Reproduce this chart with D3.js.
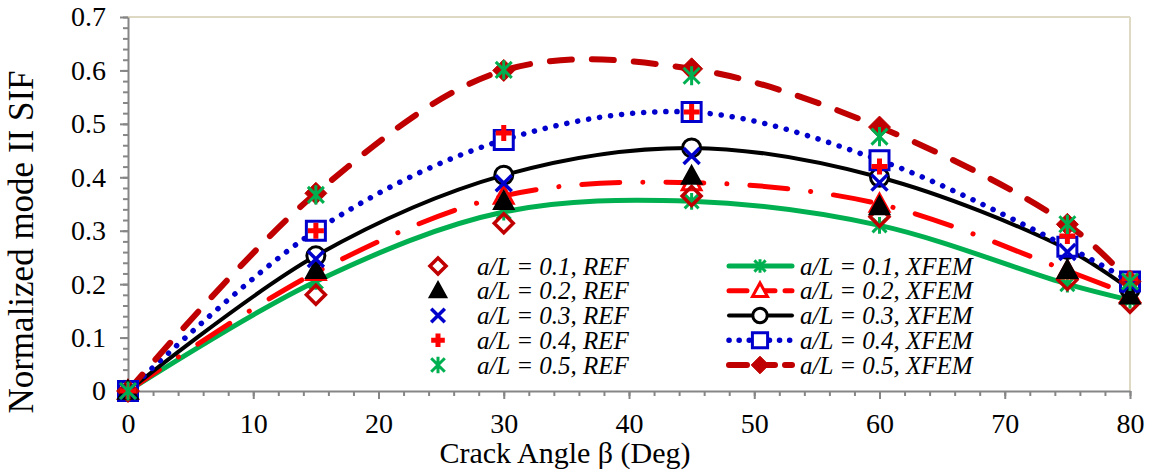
<!DOCTYPE html>
<html>
<head>
<meta charset="utf-8">
<script src="https://cdn.jsdelivr.net/npm/d3@7"></script>
<style>
  body { margin: 0; background: #fff; }
  text { font-family: "Liberation Serif", "Times New Roman", serif; fill: #000; }
</style>
</head>
<body>
<div id="chart"></div>
<script>
// crack angle (deg)
const angles = [0, 15, 30, 45, 60, 75, 80];

// reference results (markers only)
const ref01 = [0, 0.180, 0.314, 0.365, 0.326, 0.208, 0.165];
const ref02 = [0, 0.226, 0.355, 0.402, 0.345, 0.226, 0.178];
const ref03 = [0, 0.247, 0.389, 0.440, 0.390, 0.260, 0.200];
const ref04 = [0, 0.300, 0.483, 0.522, 0.420, 0.290, 0.210];
const ref05 = [0, 0.367, 0.601, 0.590, 0.476, 0.312, 0.205];

// XFEM results (smoothed lines + markers)
const xfem01 = [0, 0.205, 0.335, 0.355, 0.310, 0.200, 0.170];
const xfem02 = [0, 0.222, 0.365, 0.390, 0.350, 0.225, 0.180];
const xfem03 = [0, 0.253, 0.404, 0.455, 0.400, 0.265, 0.190];
const xfem04 = [0, 0.300, 0.470, 0.522, 0.432, 0.270, 0.205];
const xfem05 = [0, 0.370, 0.600, 0.603, 0.494, 0.312, 0.205];

const xTicks = [0, 10, 20, 30, 40, 50, 60, 70, 80];
const yTicks = [0, 0.1, 0.2, 0.3, 0.4, 0.5, 0.6, 0.7];

const refLabels = ["a/L = 0.1, REF", "a/L = 0.2, REF", "a/L = 0.3, REF", "a/L = 0.4, REF", "a/L = 0.5, REF"];
const xfemLabels = ["a/L = 0.1, XFEM", "a/L = 0.2, XFEM", "a/L = 0.3, XFEM", "a/L = 0.4, XFEM", "a/L = 0.5, XFEM"];

const W = 1151, H = 474;
const margin = { top: 17, right: 21, bottom: 83, left: 128 },
    width = W - margin.left - margin.right,
    height = H - margin.top - margin.bottom;

const svg = d3.select("#chart").append("svg")
    .attr("width", W).attr("height", H);
const g = svg.append("g").attr("transform", `translate(${margin.left},${margin.top})`);

const x = d3.scaleLinear().domain([0, 80]).range([0, width]);
const y = d3.scaleLinear().domain([0, 0.7]).range([height, 0]);

// marker shapes
function markerPath(type, r) {
  switch (type) {
    case "diamond": return `M0,${-r}L${r},0L0,${r}L${-r},0Z`;
    case "triangle": return `M0,${-r * 1.15}L${r * 1.1},${r * 0.85}L${-r * 1.1},${r * 0.85}Z`;
    case "x": return `M${-r},${-r}L${r},${r}M${-r},${r}L${r},${-r}`;
    case "plus": return `M${-r},0L${r},0M0,${-r}L0,${r}`;
    case "star": return `M${-r},${-r}L${r},${r}M${-r},${r}L${r},${-r}M0,${-r * 1.2}L0,${r * 1.2}`;
    case "square": return `M${-r},${-r}H${r}V${r}H${-r}Z`;
    case "circle": return d3.arc()({ innerRadius: 0, outerRadius: r, startAngle: 0, endAngle: 2 * Math.PI });
  }
}

const refSeries = [
  { label: refLabels[0], values: ref01, shape: "diamond", r: 9.5, stroke: "#C00000", fill: "none", sw: 3.5 },
  { label: refLabels[1], values: ref02, shape: "triangle", r: 9, stroke: "#000", fill: "#000", sw: 2 },
  { label: refLabels[2], values: ref03, shape: "x", r: 8, stroke: "#0000CC", fill: "none", sw: 3.5 },
  { label: refLabels[3], values: ref04, shape: "plus", r: 8, stroke: "#FF0000", fill: "none", sw: 5 },
  { label: refLabels[4], values: ref05, shape: "star", r: 8, stroke: "#00B050", fill: "none", sw: 3 }
];

const xfemSeries = [
  { label: xfemLabels[0], values: xfem01, color: "#00B050", lw: 5, dash: null, cap: "round",
    shape: "star", r: 7, stroke: "#00B050", fill: "none", sw: 3 },
  { label: xfemLabels[1], values: xfem02, color: "#FF0000", lw: 5, dash: "38 23 0.1 23", cap: "round",
    shape: "triangle", r: 8.5, stroke: "#FF0000", fill: "#fff", sw: 3 },
  { label: xfemLabels[2], values: xfem03, color: "#000", lw: 4, dash: null, cap: "round",
    shape: "circle", r: 9, stroke: "#000", fill: "#fff", sw: 3 },
  { label: xfemLabels[3], values: xfem04, color: "#0000CC", lw: 5.5, dash: "0.1 11", cap: "round",
    shape: "square", r: 9.5, stroke: "#0000CC", fill: "#fff", sw: 3 },
  { label: xfemLabels[4], values: xfem05, color: "#C00000", lw: 6, dash: "22 20", cap: "round",
    shape: "diamond", r: 11, stroke: "#C00000", fill: "#C00000", sw: 1 }
];

// frame: top / right lines in tan
g.append("line").attr("x1", 0).attr("x2", width).attr("y1", 0).attr("y2", 0)
  .attr("stroke", "#DDD9C3").attr("stroke-width", 2);
g.append("line").attr("x1", width).attr("x2", width).attr("y1", 0).attr("y2", height)
  .attr("stroke", "#DDD9C3").attr("stroke-width", 2);

// minor ticks
const minorX = d3.range(0, 80.001, 2);
const minorY = d3.range(0, 0.7001, 0.02);
g.append("g").attr("transform", `translate(0,${height})`)
  .call(d3.axisBottom(x).tickValues(minorX).tickSize(5).tickFormat(""))
  .call(a => a.select(".domain").remove())
  .selectAll("line").attr("stroke", "#868686").attr("stroke-width", 2);
g.append("g")
  .call(d3.axisLeft(y).tickValues(minorY).tickSize(5).tickFormat(""))
  .call(a => a.select(".domain").remove())
  .selectAll("line").attr("stroke", "#868686").attr("stroke-width", 2);

// major axes
const xAxis = g.append("g").attr("transform", `translate(0,${height})`)
  .call(d3.axisBottom(x).tickValues(xTicks).tickSize(8).tickPadding(14).tickSizeOuter(0).tickFormat(d3.format("d")));
const yAxis = g.append("g")
  .call(d3.axisLeft(y).tickValues(yTicks).tickSize(8).tickPadding(14).tickSizeOuter(0).tickFormat(d => d === 0 ? "0" : d3.format(".1f")(d)));
[xAxis, yAxis].forEach(a => {
  a.select(".domain").attr("stroke", "#868686").attr("stroke-width", 2);
  a.selectAll(".tick line").attr("stroke", "#868686").attr("stroke-width", 2);
  a.selectAll("text").style("font-size", "28px").style("font-family", "Liberation Serif");
});

// axis titles
svg.append("text").attr("x", 565).attr("y", 463).attr("text-anchor", "middle")
  .style("font-size", "30px").text("Crack Angle β (Deg)");
svg.append("text").attr("transform", "translate(33,242) rotate(-90)").attr("text-anchor", "middle")
  .style("font-size", "35px").text("Normalized mode II SIF");

// XFEM smooth lines
const line = d3.line().x((d, i) => x(angles[i])).y(d => y(d)).curve(d3.curveCatmullRom.alpha(0.5));
xfemSeries.forEach(s => {
  g.append("path").datum(s.values)
    .attr("d", line)
    .attr("fill", "none")
    .attr("stroke", s.color)
    .attr("stroke-width", s.lw)
    .attr("stroke-linecap", s.cap)
    .attr("stroke-dasharray", s.dash);
});

function drawMarkers(s) {
  g.append("g").selectAll("path")
    .data(s.values)
    .join("path")
    .attr("transform", (d, i) => `translate(${x(angles[i])},${y(d)})`)
    .attr("d", markerPath(s.shape, s.r))
    .attr("fill", s.fill)
    .attr("stroke", s.stroke)
    .attr("stroke-width", s.sw)
    .attr("stroke-linejoin", "miter");
}
xfemSeries.forEach(drawMarkers);
refSeries.forEach(drawMarkers);

// legend
const legY0 = 266, legDy = 24.75;
const legend = svg.append("g");
refSeries.forEach((s, i) => {
  const yy = legY0 + i * legDy;
  legend.append("path").attr("transform", `translate(438,${yy})`)
    .attr("d", markerPath(s.shape, s.r * 0.85))
    .attr("fill", s.fill).attr("stroke", s.stroke).attr("stroke-width", s.sw);
  legend.append("text").attr("x", 477).attr("y", yy + 8.5)
    .style("font-size", "25px").style("font-style", "italic").text(s.label);
});
xfemSeries.forEach((s, i) => {
  const yy = legY0 + i * legDy;
  legend.append("line").attr("x1", 729).attr("x2", 792).attr("y1", yy).attr("y2", yy)
    .attr("stroke", s.color).attr("stroke-width", s.lw)
    .attr("stroke-linecap", s.cap).attr("stroke-dasharray", s.dash ? (s.dash === "0.1 11" ? "0.1 10" : "18 10") : null);
  legend.append("path").attr("transform", `translate(760,${yy})`)
    .attr("d", markerPath(s.shape, s.r * 0.8))
    .attr("fill", s.fill).attr("stroke", s.stroke).attr("stroke-width", s.sw);
  legend.append("text").attr("x", 800).attr("y", yy + 8.5)
    .style("font-size", "25px").style("font-style", "italic").text(s.label);
});
</script>
</body>
</html>
